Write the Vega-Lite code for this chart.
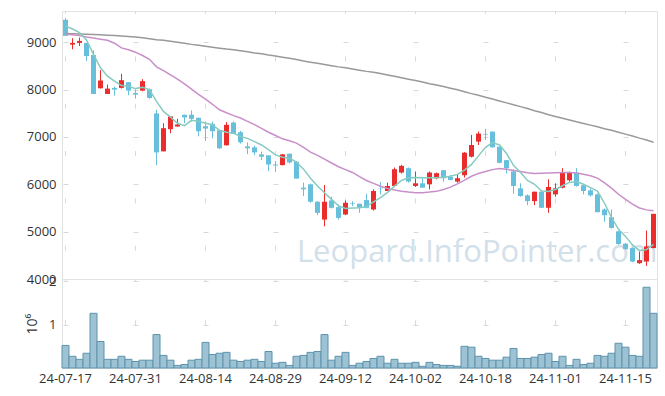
{
  "$schema": "https://vega.github.io/schema/vega-lite/v6.json",
  "padding": {"left": 25, "top": 10, "right": 9, "bottom": 5},
  "spacing": 0,
  "bounds": "flush",
  "config": {
    "font": "Open Sans",
    "view": {"stroke": "#e2e2e2"},
    "axis": {"labelFont": "Open Sans", "labelFontSize": 13, "labelColor": "#333333", "domain": false, "ticks": false, "gridColor": "#d9d9d9", "gridWidth": 1}
  },
  "datasets": {
    "k": [
      {"d":"24-07-17","o":9475,"h":9510,"l":9135,"c":9135,"v":520000,"m5":9347,"m20":9170,"m120":9184},
      {"d":"24-07-18","o":8950,"h":9085,"l":8851,"c":8986,"v":270000,"m5":9280,"m20":9160,"m120":9180},
      {"d":"24-07-19","o":8986,"h":9099,"l":8922,"c":9028,"v":200000,"m5":9206,"m20":9140,"m120":9175},
      {"d":"24-07-22","o":8986,"h":8986,"l":8603,"c":8709,"v":340000,"m5":9050,"m20":9113,"m120":9170},
      {"d":"24-07-23","o":8730,"h":8830,"l":7908,"c":7908,"v":1260000,"m5":8744,"m20":9090,"m120":9165},
      {"d":"24-07-24","o":8029,"h":8412,"l":8022,"c":8192,"v":610000,"m5":8461,"m20":9065,"m120":9160},
      {"d":"24-07-25","o":7908,"h":8107,"l":7908,"c":8021,"v":200000,"m5":8284,"m20":9042,"m120":9150},
      {"d":"24-07-26","o":8036,"h":8064,"l":7873,"c":8000,"v":200000,"m5":8177,"m20":8980,"m120":9140},
      {"d":"24-07-29","o":8036,"h":8333,"l":8022,"c":8199,"v":270000,"m5":8085,"m20":8880,"m120":9130},
      {"d":"24-07-30","o":8156,"h":8156,"l":7880,"c":7979,"v":200000,"m5":8071,"m20":8840,"m120":9120},
      {"d":"24-07-31","o":7929,"h":8000,"l":7809,"c":7894,"v":150000,"m5":8021,"m20":8790,"m120":9110},
      {"d":"24-08-01","o":7979,"h":8220,"l":7965,"c":8178,"v":180000,"m5":8050,"m20":8720,"m120":9095},
      {"d":"24-08-02","o":8007,"h":8021,"l":7809,"c":7823,"v":180000,"m5":8000,"m20":8640,"m120":9075},
      {"d":"24-08-05","o":7497,"h":7575,"l":6405,"c":6674,"v":770000,"m5":7752,"m20":8480,"m120":9055},
      {"d":"24-08-06","o":6696,"h":7291,"l":6696,"c":7185,"v":290000,"m5":7539,"m20":8400,"m120":9040},
      {"d":"24-08-07","o":7164,"h":7433,"l":7079,"c":7433,"v":180000,"m5":7420,"m20":8310,"m120":9020},
      {"d":"24-08-08","o":7220,"h":7383,"l":7220,"c":7263,"v":60000,"m5":7290,"m20":8220,"m120":9000},
      {"d":"24-08-09","o":7469,"h":7469,"l":7291,"c":7412,"v":80000,"m5":7240,"m20":8120,"m120":8980},
      {"d":"24-08-12","o":7469,"h":7561,"l":7327,"c":7383,"v":180000,"m5":7350,"m20":8010,"m120":8955},
      {"d":"24-08-13","o":7405,"h":7405,"l":7015,"c":7121,"v":200000,"m5":7330,"m20":7900,"m120":8935},
      {"d":"24-08-14","o":7227,"h":7327,"l":6916,"c":7178,"v":590000,"m5":7290,"m20":7800,"m120":8915},
      {"d":"24-08-16","o":7277,"h":7327,"l":6972,"c":7121,"v":310000,"m5":7260,"m20":7690,"m120":8895},
      {"d":"24-08-19","o":7142,"h":7142,"l":6745,"c":6760,"v":340000,"m5":7140,"m20":7574,"m120":8875},
      {"d":"24-08-20","o":6823,"h":7313,"l":6823,"c":7256,"v":360000,"m5":7100,"m20":7510,"m120":8855},
      {"d":"24-08-21","o":7305,"h":7327,"l":7064,"c":7064,"v":180000,"m5":7080,"m20":7450,"m120":8840},
      {"d":"24-08-22","o":7100,"h":7128,"l":6859,"c":6887,"v":150000,"m5":7010,"m20":7400,"m120":8820},
      {"d":"24-08-23","o":6802,"h":6887,"l":6639,"c":6760,"v":180000,"m5":6970,"m20":7330,"m120":8800},
      {"d":"24-08-26","o":6781,"h":6816,"l":6618,"c":6674,"v":200000,"m5":6900,"m20":7260,"m120":8775},
      {"d":"24-08-27","o":6632,"h":6689,"l":6511,"c":6582,"v":150000,"m5":6830,"m20":7180,"m120":8755},
      {"d":"24-08-28","o":6611,"h":6611,"l":6277,"c":6419,"v":380000,"m5":6730,"m20":7100,"m120":8730},
      {"d":"24-08-29","o":6419,"h":6490,"l":6263,"c":6398,"v":110000,"m5":6620,"m20":7030,"m120":8709},
      {"d":"24-08-30","o":6405,"h":6639,"l":6400,"c":6632,"v":130000,"m5":6570,"m20":6960,"m120":8685},
      {"d":"24-09-02","o":6646,"h":6646,"l":6440,"c":6462,"v":60000,"m5":6550,"m20":6920,"m120":8660},
      {"d":"24-09-03","o":6476,"h":6490,"l":6121,"c":6121,"v":270000,"m5":6470,"m20":6870,"m120":8635},
      {"d":"24-09-04","o":5929,"h":6035,"l":5752,"c":5894,"v":290000,"m5":6320,"m20":6780,"m120":8605},
      {"d":"24-09-05","o":6000,"h":6014,"l":5610,"c":5631,"v":360000,"m5":6130,"m20":6680,"m120":8580},
      {"d":"24-09-06","o":5631,"h":5645,"l":5348,"c":5397,"v":380000,"m5":5965,"m20":6610,"m120":8555},
      {"d":"24-09-09","o":5255,"h":5986,"l":5114,"c":5631,"v":770000,"m5":5823,"m20":6530,"m120":8530},
      {"d":"24-09-10","o":5660,"h":5738,"l":5490,"c":5504,"v":180000,"m5":5681,"m20":6450,"m120":8505},
      {"d":"24-09-11","o":5518,"h":5575,"l":5255,"c":5291,"v":270000,"m5":5545,"m20":6370,"m120":8480},
      {"d":"24-09-12","o":5362,"h":5660,"l":5348,"c":5610,"v":360000,"m5":5490,"m20":6310,"m120":8460},
      {"d":"24-09-13","o":5603,"h":5645,"l":5539,"c":5589,"v":60000,"m5":5500,"m20":6250,"m120":8435},
      {"d":"24-09-19","o":5589,"h":5589,"l":5397,"c":5504,"v":110000,"m5":5504,"m20":6160,"m120":8410},
      {"d":"24-09-20","o":5667,"h":5801,"l":5490,"c":5504,"v":150000,"m5":5530,"m20":6080,"m120":8385},
      {"d":"24-09-23","o":5468,"h":5894,"l":5447,"c":5858,"v":220000,"m5":5630,"m20":6020,"m120":8365},
      {"d":"24-09-24","o":5915,"h":6050,"l":5787,"c":5908,"v":270000,"m5":5720,"m20":5960,"m120":8340},
      {"d":"24-09-25","o":5858,"h":6035,"l":5858,"c":5965,"v":110000,"m5":5830,"m20":5910,"m120":8310},
      {"d":"24-09-26","o":5965,"h":6355,"l":5965,"c":6319,"v":200000,"m5":5960,"m20":5880,"m120":8280},
      {"d":"24-09-27","o":6248,"h":6411,"l":6227,"c":6390,"v":110000,"m5":6080,"m20":5855,"m120":8250},
      {"d":"24-09-30","o":6340,"h":6355,"l":6035,"c":6057,"v":110000,"m5":6140,"m20":5835,"m120":8220},
      {"d":"24-10-02","o":5965,"h":6270,"l":5943,"c":6021,"v":130000,"m5":6145,"m20":5823,"m120":8190},
      {"d":"24-10-04","o":6021,"h":6156,"l":5929,"c":5929,"v":40000,"m5":6140,"m20":5823,"m120":8160},
      {"d":"24-10-07","o":6000,"h":6270,"l":5894,"c":6248,"v":130000,"m5":6140,"m20":5835,"m120":8125},
      {"d":"24-10-08","o":6128,"h":6248,"l":6106,"c":6234,"v":80000,"m5":6140,"m20":5851,"m120":8095},
      {"d":"24-10-10","o":6298,"h":6298,"l":6057,"c":6128,"v":60000,"m5":6150,"m20":5890,"m120":8065},
      {"d":"24-10-11","o":6156,"h":6199,"l":6085,"c":6092,"v":60000,"m5":6170,"m20":5940,"m120":8030},
      {"d":"24-10-14","o":6057,"h":6199,"l":6035,"c":6128,"v":40000,"m5":6210,"m20":6010,"m120":7995},
      {"d":"24-10-15","o":6192,"h":6680,"l":6142,"c":6667,"v":500000,"m5":6300,"m20":6090,"m120":7955},
      {"d":"24-10-16","o":6582,"h":7043,"l":6568,"c":6830,"v":480000,"m5":6420,"m20":6170,"m120":7915},
      {"d":"24-10-17","o":6901,"h":7113,"l":6830,"c":7071,"v":270000,"m5":6600,"m20":6230,"m120":7880},
      {"d":"24-10-18","o":7064,"h":7170,"l":6936,"c":7050,"v":220000,"m5":6780,"m20":6270,"m120":7840},
      {"d":"24-10-21","o":7113,"h":7113,"l":6780,"c":6780,"v":180000,"m5":6880,"m20":6310,"m120":7800},
      {"d":"24-10-22","o":6794,"h":6794,"l":6440,"c":6454,"v":180000,"m5":6830,"m20":6334,"m120":7760},
      {"d":"24-10-23","o":6510,"h":6510,"l":6230,"c":6340,"v":250000,"m5":6650,"m20":6320,"m120":7720},
      {"d":"24-10-24","o":6270,"h":6320,"l":5800,"c":5965,"v":450000,"m5":6400,"m20":6290,"m120":7680},
      {"d":"24-10-25","o":5915,"h":6021,"l":5738,"c":5752,"v":220000,"m5":6250,"m20":6270,"m120":7640},
      {"d":"24-10-28","o":5766,"h":5787,"l":5560,"c":5645,"v":220000,"m5":6080,"m20":6245,"m120":7600},
      {"d":"24-10-29","o":5645,"h":5844,"l":5560,"c":5844,"v":250000,"m5":6000,"m20":6230,"m120":7555},
      {"d":"24-10-30","o":5844,"h":5858,"l":5504,"c":5504,"v":310000,"m5":5858,"m20":6235,"m120":7515},
      {"d":"24-10-31","o":5504,"h":6106,"l":5397,"c":5943,"v":340000,"m5":5850,"m20":6240,"m120":7470},
      {"d":"24-11-01","o":5787,"h":6021,"l":5738,"c":5915,"v":150000,"m5":5890,"m20":6245,"m120":7430},
      {"d":"24-11-04","o":5929,"h":6340,"l":5915,"c":6248,"v":270000,"m5":5970,"m20":6250,"m120":7395},
      {"d":"24-11-05","o":6085,"h":6270,"l":6057,"c":6241,"v":60000,"m5":6040,"m20":6250,"m120":7360},
      {"d":"24-11-06","o":6248,"h":6340,"l":5950,"c":5965,"v":200000,"m5":6057,"m20":6240,"m120":7320},
      {"d":"24-11-07","o":5979,"h":6000,"l":5787,"c":5858,"v":80000,"m5":6000,"m20":6210,"m120":7285},
      {"d":"24-11-08","o":5872,"h":5915,"l":5738,"c":5766,"v":110000,"m5":5930,"m20":6180,"m120":7250},
      {"d":"24-11-11","o":5787,"h":5809,"l":5411,"c":5411,"v":290000,"m5":5858,"m20":6130,"m120":7215},
      {"d":"24-11-12","o":5468,"h":5490,"l":5206,"c":5348,"v":270000,"m5":5600,"m20":6030,"m120":7175},
      {"d":"24-11-13","o":5305,"h":5468,"l":5064,"c":5078,"v":340000,"m5":5300,"m20":5920,"m120":7140},
      {"d":"24-11-14","o":5007,"h":5021,"l":4724,"c":4738,"v":570000,"m5":5050,"m20":5790,"m120":7100},
      {"d":"24-11-15","o":4745,"h":4759,"l":4617,"c":4632,"v":480000,"m5":4900,"m20":5680,"m120":7060},
      {"d":"24-11-18","o":4653,"h":4667,"l":4355,"c":4369,"v":290000,"m5":4720,"m20":5580,"m120":7020},
      {"d":"24-11-19","o":4334,"h":4582,"l":4320,"c":4398,"v":270000,"m5":4600,"m20":5500,"m120":6975},
      {"d":"24-11-20","o":4369,"h":5021,"l":4277,"c":4688,"v":1860000,"m5":4620,"m20":5460,"m120":6935},
      {"d":"24-11-21","o":4653,"h":5376,"l":4653,"c":5376,"v":1260000,"m5":4730,"m20":5440,"m120":6890}
    ]
  },
  "vconcat": [
    {
      "width": 595,
      "height": 268,
      "data": {"name": "k"},
      "encoding": {
        "x": {"field": "d", "type": "ordinal", "sort": "ascending",
              "scale": {"paddingInner": 0, "paddingOuter": 0},
              "axis": {"title": null, "labels": false, "grid": true,
                       "values": ["24-07-17","24-07-31","24-08-14","24-08-29","24-09-12","24-10-02","24-10-18","24-11-01","24-11-15"],
                       "gridDash": [5, 42.35], "gridDashOffset": 2.5}}
      },
      "layer": [
        {
          "transform": [{"filter": "datum.d === '24-11-21'"}],
          "mark": {"type": "text", "align": "right", "baseline": "middle", "fontSize": 31, "font": "Open Sans", "color": "#d2e0ea", "dx": 4},
          "encoding": {
            "y": {"datum": 4540, "type": "quantitative"},
            "text": {"value": "Leopard.InfoPointer.com"}
          }
        },
        {
          "mark": {"type": "rule", "strokeWidth": 1},
          "encoding": {
            "y": {"field": "l", "type": "quantitative", "scale": {"domain": [4000, 9660], "nice": false, "zero": false},
                  "axis": {"title": null, "values": [4000,5000,6000,7000,8000,9000], "format": "d", "labelPadding": 6,
                           "grid": true, "gridDash": [5, 65], "gridDashOffset": -1}},
            "y2": {"field": "h"},
            "color": {"condition": {"test": "datum.c >= datum.o", "value": "#ea2c2c"}, "value": "#68bfdc"}
          }
        },
        {
          "mark": {"type": "bar", "width": 5},
          "encoding": {
            "y": {"field": "o", "type": "quantitative"},
            "y2": {"field": "c"},
            "color": {"condition": {"test": "datum.c >= datum.o", "value": "#ea2c2c"}, "value": "#68bfdc"}
          }
        },
        {
          "mark": {"type": "line", "color": "#999999", "strokeWidth": 1.5},
          "encoding": {"y": {"field": "m120", "type": "quantitative"}}
        },
        {
          "mark": {"type": "line", "color": "#c98fc9", "strokeWidth": 1.5},
          "encoding": {"y": {"field": "m20", "type": "quantitative"}}
        },
        {
          "mark": {"type": "line", "color": "#86cbc1", "strokeWidth": 1.5},
          "encoding": {"y": {"field": "m5", "type": "quantitative"}}
        }
      ]
    },
    {
      "width": 595,
      "height": 89,
      "data": {"name": "k"},
      "mark": {"type": "bar", "width": {"band": 1}, "fill": "#9cc2d3", "stroke": "#5e93ad", "strokeWidth": 1},
      "encoding": {
        "x": {"field": "d", "type": "ordinal", "sort": "ascending",
              "scale": {"paddingInner": 0, "paddingOuter": 0},
              "axis": {"title": null, "labelAngle": 0, "labelPadding": 4, "grid": true,
                       "values": ["24-07-17","24-07-31","24-08-14","24-08-29","24-09-12","24-10-02","24-10-18","24-11-01","24-11-15"],
                       "gridDash": [5, 38.4], "gridDashOffset": 2.5}},
        "y": {"field": "v", "type": "quantitative", "scale": {"domain": [0, 2050000], "nice": false},
              "axis": {"title": "10⁶", "titleFont": "Open Sans", "titleFontSize": 14, "titleFontWeight": "normal", "titleColor": "#333333", "titlePadding": 9,
                       "values": [1000000, 2000000], "labelExpr": "datum.value / 1000000", "labelPadding": 6,
                       "grid": true, "gridDash": [5, 65], "gridDashOffset": -1}}
      }
    }
  ]
}
